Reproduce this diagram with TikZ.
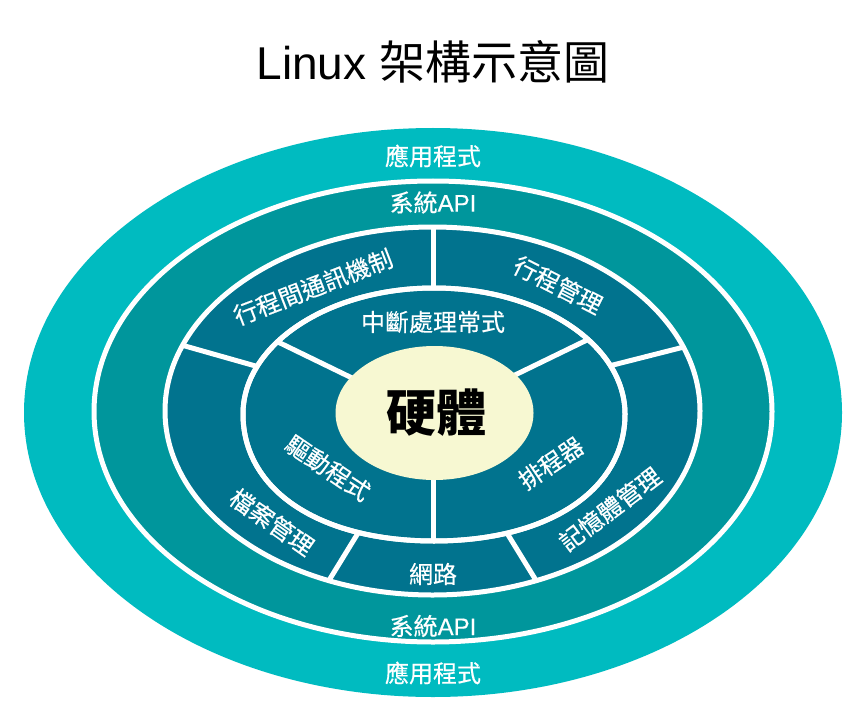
\documentclass[tikz,border=0pt]{standalone}
\usepackage{fontspec}
\setmainfont{Liberation Sans}
\newfontfamily\cjk{Noto Sans CJK TC}
\newfontfamily\cjkm[FakeBold=0.4]{Noto Sans CJK TC}
\newfontfamily\latm[FakeBold=0.4]{Liberation Sans}
\usetikzlibrary{calc}
\definecolor{bandA}{RGB}{0,187,192}
\definecolor{bandB}{RGB}{0,150,156}
\definecolor{bandC}{RGB}{1,115,142}
\definecolor{core}{RGB}{247,248,210}
\newcommand\innerring{(243,414) .. controls (243,344.4) and (328.5,288) .. (434,288) .. controls (539.5,288) and (625,344.4) .. (625,414) .. controls (625,490.2) and (548.6,541) .. (434,541) .. controls (319.4,541) and (243,490.2) .. (243,414) -- cycle}
\begin{document}
\begin{tikzpicture}[x=1pt,y=-1pt,
  sep/.style={draw=white, line width=5pt},
  ring/.style={draw=white, line width=5pt},
  lab/.style={text=white, inner sep=0pt, font=\cjkm\fontsize{24}{28}\selectfont},
]
\useasboundingbox (0,0) rectangle (866,719);
\fill[white] (0,0) rectangle (866,719);

\node[font=\fontsize{46}{50}\selectfont, inner sep=0pt] (title) at (433,62) {Linux {\cjk 架構示意圖}};

% rings
\fill[bandA] (433,412.5) ellipse [x radius=409pt, y radius=284.5pt];
\path[fill=bandB, ring] (433,411.5) ellipse [x radius=339pt, y radius=230.5pt];
\path[fill=bandC, ring] (432.5,411) ellipse [x radius=267.5pt, y radius=184pt];

\begin{scope}
  \clip (432.5,411) ellipse [x radius=267.5pt, y radius=184pt];
  \draw[sep] (433,320) -- (433,200);
  \draw[sep] ($(252,365)!-0.5!(185,346)$) -- ($(252,365)!3!(185,346)$);
  \draw[sep] ($(613,365)!-0.5!(680,348)$) -- ($(613,365)!3!(680,348)$);
  \draw[sep] ($(355,538)!-0.5!(328,582)$) -- ($(355,538)!3!(328,582)$);
  \draw[sep] ($(510,538)!-0.5!(537,582)$) -- ($(510,538)!3!(537,582)$);
\end{scope}

\path[fill=bandC, ring] \innerring;

\begin{scope}
  \clip \innerring;
  \draw[sep] ($(350,377)!-0.5!(278,342)$) -- ($(350,377)!3!(278,342)$);
  \draw[sep] ($(515,375)!-0.5!(587,340)$) -- ($(515,375)!3!(587,340)$);
  \draw[sep] (433,460) -- (433,570);
\end{scope}
\draw[ring] \innerring;

\fill[core] (434.5,413) ellipse [x radius=99pt, y radius=67pt];

% labels
\node[lab] (appT) at (433,156) {應用程式};
\node[lab] (apiT) at (433,202.5) {系統{\latm API}};
\node[lab] (apiB) at (433,626) {系統{\latm API}};
\node[lab] (appB) at (433,673) {應用程式};
\node[lab] (irq) at (433,322) {中斷處理常式};
\node[lab] (net) at (433,574) {網路};
\node[lab, rotate=21] (ipc) at (313,287) {行程間通訊機制};
\node[lab, rotate=-27] (proc) at (558,285) {行程管理};
\node[lab, rotate=-34] (drv) at (328,468) {驅動程式};
\node[lab, rotate=-35] (fs) at (272,522) {檔案管理};
\node[lab, rotate=34] (sched) at (551,463) {排程器};
\node[lab, rotate=37] (mem) at (610,509) {記憶體管理};
\node[inner sep=0pt, font=\cjk\bfseries\fontsize{50}{54}\selectfont] (hw) at (436,413) {硬體};
\end{tikzpicture}
\end{document}
